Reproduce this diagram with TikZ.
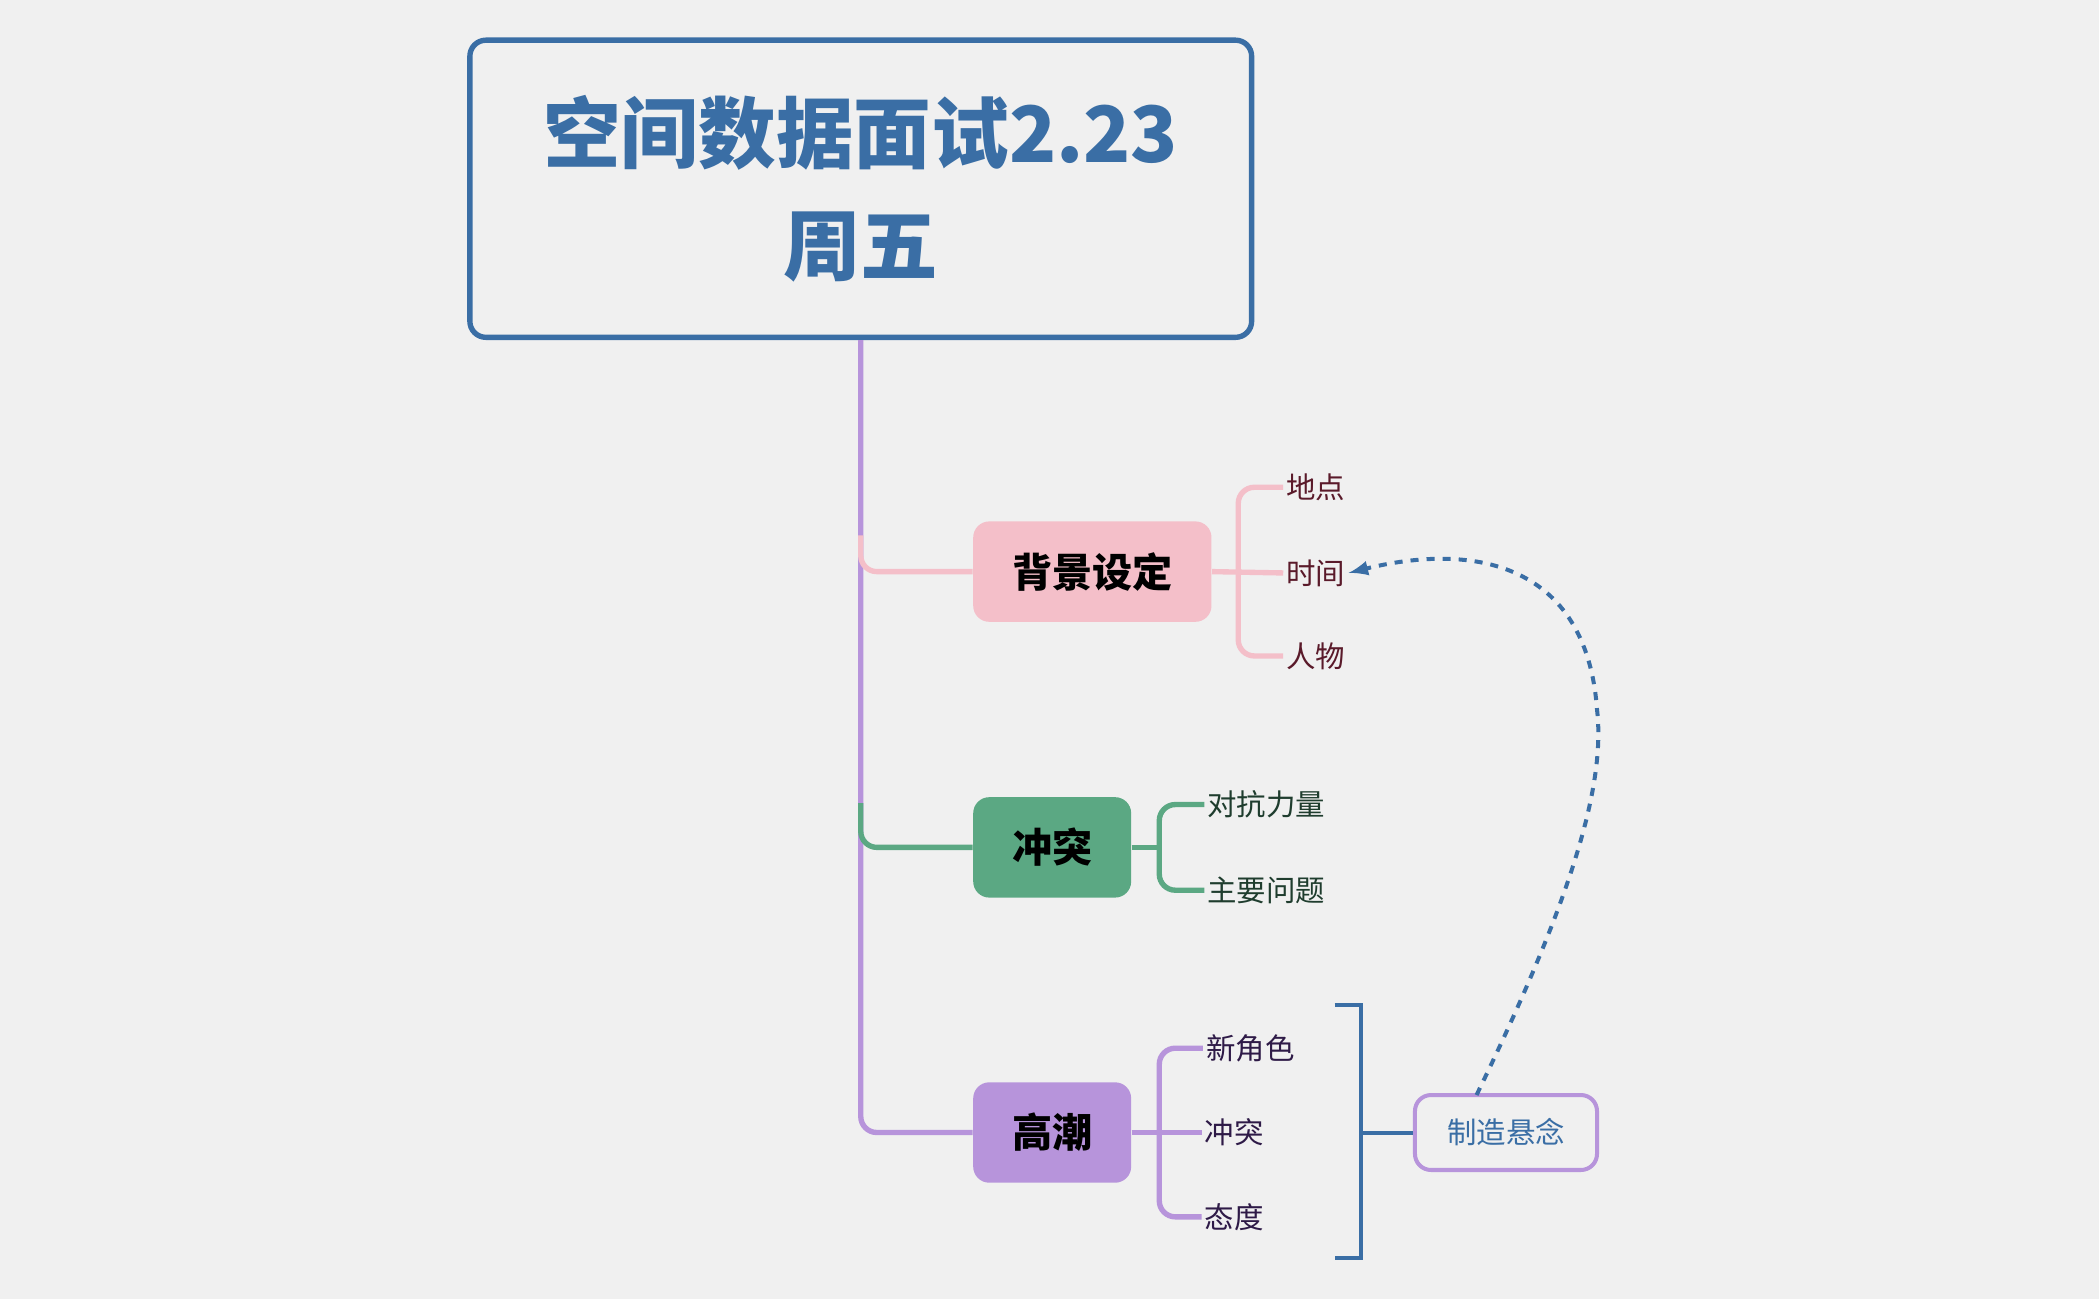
\documentclass[tikz,border=0pt]{standalone}
\usepackage{fontspec}
\setmainfont{Noto Sans CJK SC}
\usetikzlibrary{positioning}
\definecolor{bgc}{HTML}{F0F0F0}
\definecolor{rootc}{HTML}{3A6EA5}
\definecolor{trunkc}{HTML}{B794DB}
\definecolor{pinkc}{HTML}{F4BFC9}
\definecolor{greenc}{HTML}{5BA883}
\definecolor{redtxt}{HTML}{5A1A2A}
\definecolor{greentxt}{HTML}{1F3D2E}
\definecolor{purptxt}{HTML}{2E1A47}
\tikzset{
  topic/.style={rounded corners=6pt, minimum height=37.5pt, font=\fontsize{15}{18}\selectfont\bfseries, inner sep=0pt},
  leaf/.style={font=\fontsize{11}{13}\selectfont, inner sep=1pt},
  link/.style={line width=2pt, rounded corners=6pt},
}
\begin{document}
\begin{tikzpicture}[x=0.5pt, y=-0.5pt]
    % 1. Canvas
    \fill[bgc] (0,0) rectangle (1568,970);
    \useasboundingbox (0,0) rectangle (1568,970);

    % 2. Root and topics
    \node[draw=rootc, line width=2pt, rounded corners=6pt, minimum width=292pt, minimum height=111pt,
          align=center, text=rootc, font=\fontsize{29}{42}\selectfont\bfseries] (root) at (643,141)
          {空间数据面试2.23\\周五};
    \node[topic, fill=pinkc, minimum width=89pt] (bg) at (816,427) {背景设定};
    \node[topic, fill=greenc, minimum width=59pt] (ct) at (786,633) {冲突};
    \node[topic, fill=trunkc, minimum width=59pt] (gc) at (786,846) {高潮};

    % trunk
    \draw[link, trunkc] (root.south) -- (643,846) -- (gc.west);
    \draw[link, pinkc] (643,400) |- (bg.west);
    \draw[link, greenc] (643,600) |- (ct.west);

    % 3. Leaves
    \node[leaf, text=redtxt] (dd) at (983,364) {地点};
    \node[leaf, text=redtxt] (sj) at (983,428) {时间};
    \node[leaf, text=redtxt] (rw) at (983,490) {人物};
    \node[leaf, text=greentxt] (dk) at (946,601) {对抗力量};
    \node[leaf, text=greentxt] (zy) at (946,665) {主要问题};
    \node[leaf, text=purptxt] (xj) at (934,783) {新角色};
    \node[leaf, text=purptxt] (cc) at (922,846) {冲突};
    \node[leaf, text=purptxt] (td) at (922,909) {态度};

    % brackets
    \draw[link, pinkc] (bg.east) -- (sj.west);
    \draw[link, pinkc] (dd.west) -- (925,364) -- (925,490) -- (rw.west);
    \draw[link, greenc] (ct.east) -- (866,633);
    \draw[link, greenc] (dk.west) -- (866,601) -- (866,665) -- (zy.west);
    \draw[link, trunkc] (gc.east) -- (cc.west);
    \draw[link, trunkc] (xj.west) -- (866,783) -- (866,909) -- (td.west);

    % 4. Summary
    \node[draw=trunkc, line width=1.5pt, rounded corners=6pt, minimum width=68pt, minimum height=28pt,
          text=rootc, font=\fontsize{11}{13}\selectfont] (xn) at (1125,846) {制造悬念};
    \coordinate (sumtop) at (997,751);
    \coordinate (sumbot) at (997,940);
    \draw[rootc, line width=1.5pt] (sumtop) -- (1017,751) -- (1017,940) -- (sumbot);
    \draw[rootc, line width=1.5pt] (1017,846) -- (xn.west);

    % 5. Relation
    \draw[rootc, line width=1.5pt, dashed, -latex] (1103,818)
        .. controls (1170,680) and (1200,590) .. (1193,530)
        .. controls (1185,420) and (1100,405) .. (sj.east);
\end{tikzpicture}
\end{document}
